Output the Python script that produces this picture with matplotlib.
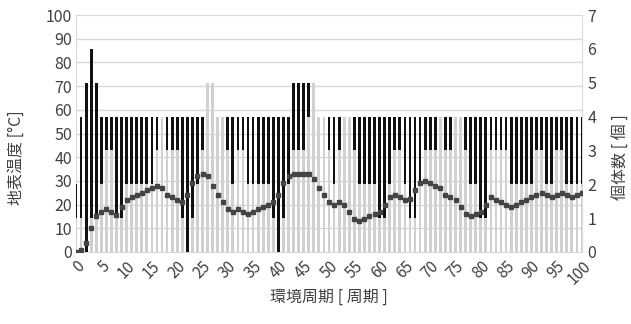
import numpy as np
import matplotlib
matplotlib.use('Agg')
import matplotlib.pyplot as plt
from matplotlib.ticker import FixedLocator

plt.rcParams['font.family'] = ['Noto Sans CJK JP', 'DejaVu Sans']

# environment cycle
periods = np.arange(0, 101)

# surface temperature [degC]
temperature = [
    0, 1, 4, 10, 15, 17, 18, 17, 15.5, 19,
    22, 23, 24, 25, 26, 27, 28, 27, 24, 23,
    22, 21, 24, 29, 32, 33, 32, 28, 24, 21,
    18, 17, 18, 17, 16, 17, 18, 19, 20, 21,
    24, 29, 32, 33, 33, 33, 33, 31, 27, 24,
    21, 20, 21, 20, 17, 14, 13, 14, 15, 16,
    17, 20, 23, 24, 23, 22, 22.5, 26, 29, 30,
    29, 28, 27, 24, 23, 22, 19, 16, 15, 16,
    17, 20, 23, 22, 21, 20, 19, 20, 21, 22,
    23, 24, 25, 24, 23, 24, 25, 24, 23, 24,
    25,
]

# number of individuals: max and min per cycle
count_max = [
    2, 4, 5, 6, 5, 4, 4, 4, 4, 4,
    4, 4, 4, 4, 4, 4, 4, 4, 4, 4,
    4, 4, 4, 4, 4, 4, 5, 5, 4, 4,
    4, 4, 4, 4, 4, 4, 4, 4, 4, 4,
    4, 4, 4, 5, 5, 5, 5, 5, 4, 4,
    4, 4, 4, 4, 4, 4, 4, 4, 4, 4,
    4, 4, 4, 4, 4, 4, 4, 4, 4, 4,
    4, 4, 4, 4, 4, 4, 4, 4, 4, 4,
    4, 4, 4, 4, 4, 4, 4, 4, 4, 4,
    4, 4, 4, 4, 4, 4, 4, 4, 4, 4,
    4,
]
count_min = [
    1, 1, 0, 1, 1, 2, 3, 3, 1, 1,
    2, 2, 2, 2, 2, 2, 3, 4, 3, 3,
    3, 1, 0, 1, 2, 3, 5, 5, 4, 4,
    3, 2, 3, 3, 2, 2, 2, 2, 2, 1,
    0, 1, 2, 3, 3, 3, 4, 5, 4, 4,
    3, 2, 3, 4, 4, 3, 2, 2, 2, 2,
    1, 1, 2, 3, 3, 2, 1, 1, 2, 3,
    3, 3, 4, 3, 3, 4, 4, 3, 2, 2,
    1, 1, 3, 3, 3, 3, 2, 2, 2, 2,
    2, 3, 3, 2, 2, 3, 3, 2, 2, 2,
    2,
]

xticks = np.arange(0, 101, 5)
text_color = '#404040'
grid_color = '#d9d9d9'

fig = plt.figure(figsize=(6.31, 3.24), dpi=100)
ax = fig.add_axes([76 / 631, 1 - 252 / 324, 506 / 631, 237 / 324])
ax2 = ax.twinx()

# bars sit on the count axis, drawn underneath the temperature markers
ax.set_zorder(ax2.get_zorder() + 1)
ax.patch.set_visible(False)

cmax = np.array(count_max)
cmin = np.array(count_min)
ax2.bar(periods, cmax, width=0.55, color='#d0d0d0', zorder=2)
ax2.bar(periods, cmax - cmin, bottom=cmin, width=0.55, color='#111111', zorder=3)

ax.plot(periods, temperature, linestyle='none', marker='s', markersize=3.1,
        color='#444444', zorder=5)

ax.set_xlim(0, 100)
ax.set_ylim(0, 100)
ax2.set_ylim(0, 7)

ax.set_yticks(np.arange(0, 101, 10))
ax2.set_yticks(np.arange(0, 8, 1))
ax.set_xticks(xticks)
ax.set_xticklabels([str(t) for t in xticks], rotation=45, ha='right', va='top',
                   rotation_mode='anchor')

# horizontal grid at every 10 degC, placed on the bar axis so it stays behind
ax2.yaxis.set_minor_locator(FixedLocator(np.arange(0, 7.01, 0.7)))
ax2.grid(which='minor', axis='y', color=grid_color, linewidth=1, zorder=0)
ax2.set_axisbelow(True)

# frame drawn by the lower axes only, so the edge bars sit on top of it
for s in ax.spines.values():
    s.set_visible(False)
for s in ax2.spines.values():
    s.set_color(grid_color)
    s.set_zorder(1.5)

for a in (ax, ax2):
    a.tick_params(length=0, colors=text_color, labelsize=11.5)
ax2.tick_params(which='minor', length=0)
ax.tick_params(axis='x', labelsize=11, pad=4)
ax.tick_params(axis='y', pad=3)
ax2.tick_params(axis='y', pad=4)

ax.set_ylabel('地表温度 [°C]', fontsize=11.5, color=text_color)
ax.yaxis.set_label_coords(-0.101, 0.40)
ax2.set_ylabel('個体数 [ 個 ]', fontsize=11.5, color=text_color)
ax2.yaxis.set_label_coords(1.061, 0.40)
ax.set_xlabel('環境周期 [ 周期 ]', fontsize=11.5, color=text_color)
ax.xaxis.set_label_coords(0.5, -0.155)

fig.savefig('out.png', dpi=100)
